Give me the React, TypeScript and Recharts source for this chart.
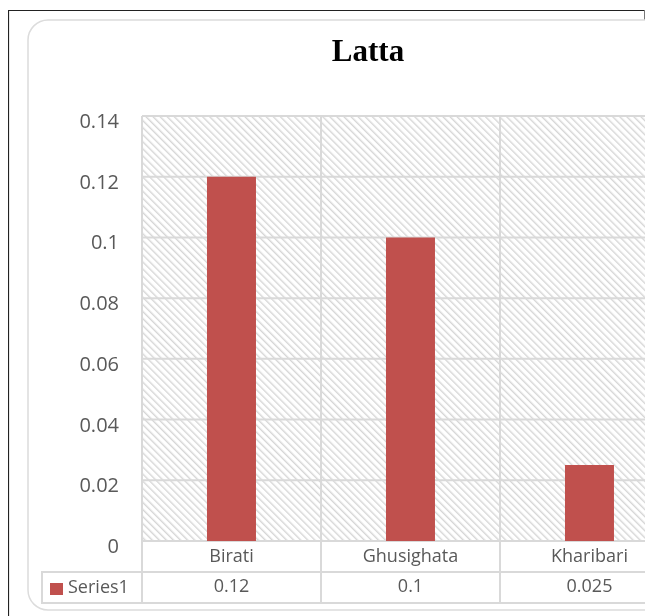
import { BarChart, Bar, XAxis, YAxis, CartesianGrid } from 'recharts';

const categories = ['Birati', 'Ghusighata', 'Kharibari'];
const series1 = [0.12, 0.1, 0.025];
const yTicks = [0, 0.02, 0.04, 0.06, 0.08, 0.1, 0.12, 0.14];
const seriesName = 'Series1';
const title = 'Latta';

const data = categories.map((name, i) => ({ name, value: series1[i] }));

const CHART_W = 720;
const CHART_H = 608;
const MARGIN = { top: 108, right: 49, bottom: 13, left: 0 };
const Y_AXIS_W = 134;
const X_AXIS_H = 62;
const PLOT_LEFT = MARGIN.left + Y_AXIS_W;
const PLOT_W = CHART_W - PLOT_LEFT - MARGIN.right;
const PLOT_BOTTOM = CHART_H - MARGIN.bottom - X_AXIS_H;
const BAND = PLOT_W / categories.length;

const TEXT = '#595959';
const LINE = '#d9d9d9';
const BAR = '#c0504d';
const FONT = '"Open Sans", "Noto Sans", sans-serif';

function YTick({ x, y, payload }: any) {
  return (
    <text x={x} y={y + 12} textAnchor="end" fontSize={20} fill={TEXT} fontFamily={FONT}>
      {String(payload.value)}
    </text>
  );
}

// data table under the plot: category row + series row
function TableTick({ x, payload }: any) {
  const i = categories.indexOf(payload.value);
  const left = x - BAND / 2;
  const right = x + BAND / 2;
  const rowLine = PLOT_BOTTOM + 31;
  const bottom = PLOT_BOTTOM + 62;
  return (
    <g>
      <text x={x} y={PLOT_BOTTOM + 21} textAnchor="middle" fontSize={18} fill={TEXT} fontFamily={FONT}>
        {payload.value}
      </text>
      <text x={x} y={PLOT_BOTTOM + 51} textAnchor="middle" fontSize={18} fill={TEXT} fontFamily={FONT}>
        {String(series1[i])}
      </text>
      <line x1={left} x2={right} y1={rowLine} y2={rowLine} stroke={LINE} strokeWidth={2} />
      <line x1={left} x2={right} y1={bottom} y2={bottom} stroke={LINE} strokeWidth={2} />
      <line x1={right} x2={right} y1={PLOT_BOTTOM} y2={bottom} stroke={LINE} strokeWidth={2} />
      {i === 0 && (
        <g>
          <line x1={left} x2={left} y1={PLOT_BOTTOM} y2={bottom} stroke={LINE} strokeWidth={2} />
          <rect x={left - 100} y={rowLine} width={100} height={31} fill="none" stroke={LINE} strokeWidth={2} />
          <rect x={left - 92} y={rowLine + 11} width={13} height={12} fill={BAR} />
          <text x={left - 74} y={PLOT_BOTTOM + 52} fontSize={18} fill={TEXT} fontFamily={FONT}>
            {seriesName}
          </text>
        </g>
      )}
    </g>
  );
}

export default function App() {
  return (
    <div style={{ position: 'fixed', left: 8, top: 8, width: 637, height: CHART_H, overflow: 'hidden' }}>
      <svg width={0} height={0} style={{ position: 'absolute' }}>
        <defs>
          <pattern id="latta-hatch" width={5} height={5} patternUnits="userSpaceOnUse" patternTransform="rotate(-45)">
            <rect width={5} height={5} fill="#ffffff" />
            <rect x={0} y={0} width={1.4} height={5} fill="#d6d6d6" />
          </pattern>
        </defs>
      </svg>
      <svg width={CHART_W} height={CHART_H} style={{ position: 'absolute', left: 0, top: 0 }}>
        <path d={`M0.5 ${CHART_H} V2.5 H${CHART_W}`} fill="none" stroke="#222" strokeWidth={1.2} />
        <line x1={636.5} x2={636.5} y1={2} y2={12} stroke="#777" strokeWidth={1} />
        <rect x={20} y={12} width={680} height={590} rx={20} fill="#fff" stroke="#dcdcdc" strokeWidth={1.5} />
        <text x={CHART_W / 2} y={53} textAnchor="middle" fontSize={31} fontWeight="bold" fill="#000"
          fontFamily='"Liberation Serif", "DejaVu Serif", serif'>
          {title}
        </text>
      </svg>
      <div style={{ position: 'absolute', left: 0, top: 0 }}>
        <BarChart width={CHART_W} height={CHART_H} data={data} margin={MARGIN} barCategoryGap="36.3%">
          <CartesianGrid
            fill="url(#latta-hatch)"
            fillOpacity={1}
            stroke={LINE}
            strokeWidth={2}
            verticalCoordinatesGenerator={({ offset }: any) =>
              categories.map((_, i) => offset.left + (i * offset.width) / categories.length).concat(offset.left + offset.width)
            }
          />
          <YAxis
            width={Y_AXIS_W}
            domain={[0, 0.14]}
            ticks={yTicks}
            axisLine={false}
            tickLine={false}
            tickSize={0}
            tickMargin={23}
            tick={<YTick />}
            interval={0}
          />
          <XAxis
            dataKey="name"
            height={X_AXIS_H}
            axisLine={false}
            tickLine={false}
            interval={0}
            tick={<TableTick />}
          />
          <Bar dataKey="value" fill={BAR} isAnimationActive={false} />
        </BarChart>
      </div>
    </div>
  );
}
